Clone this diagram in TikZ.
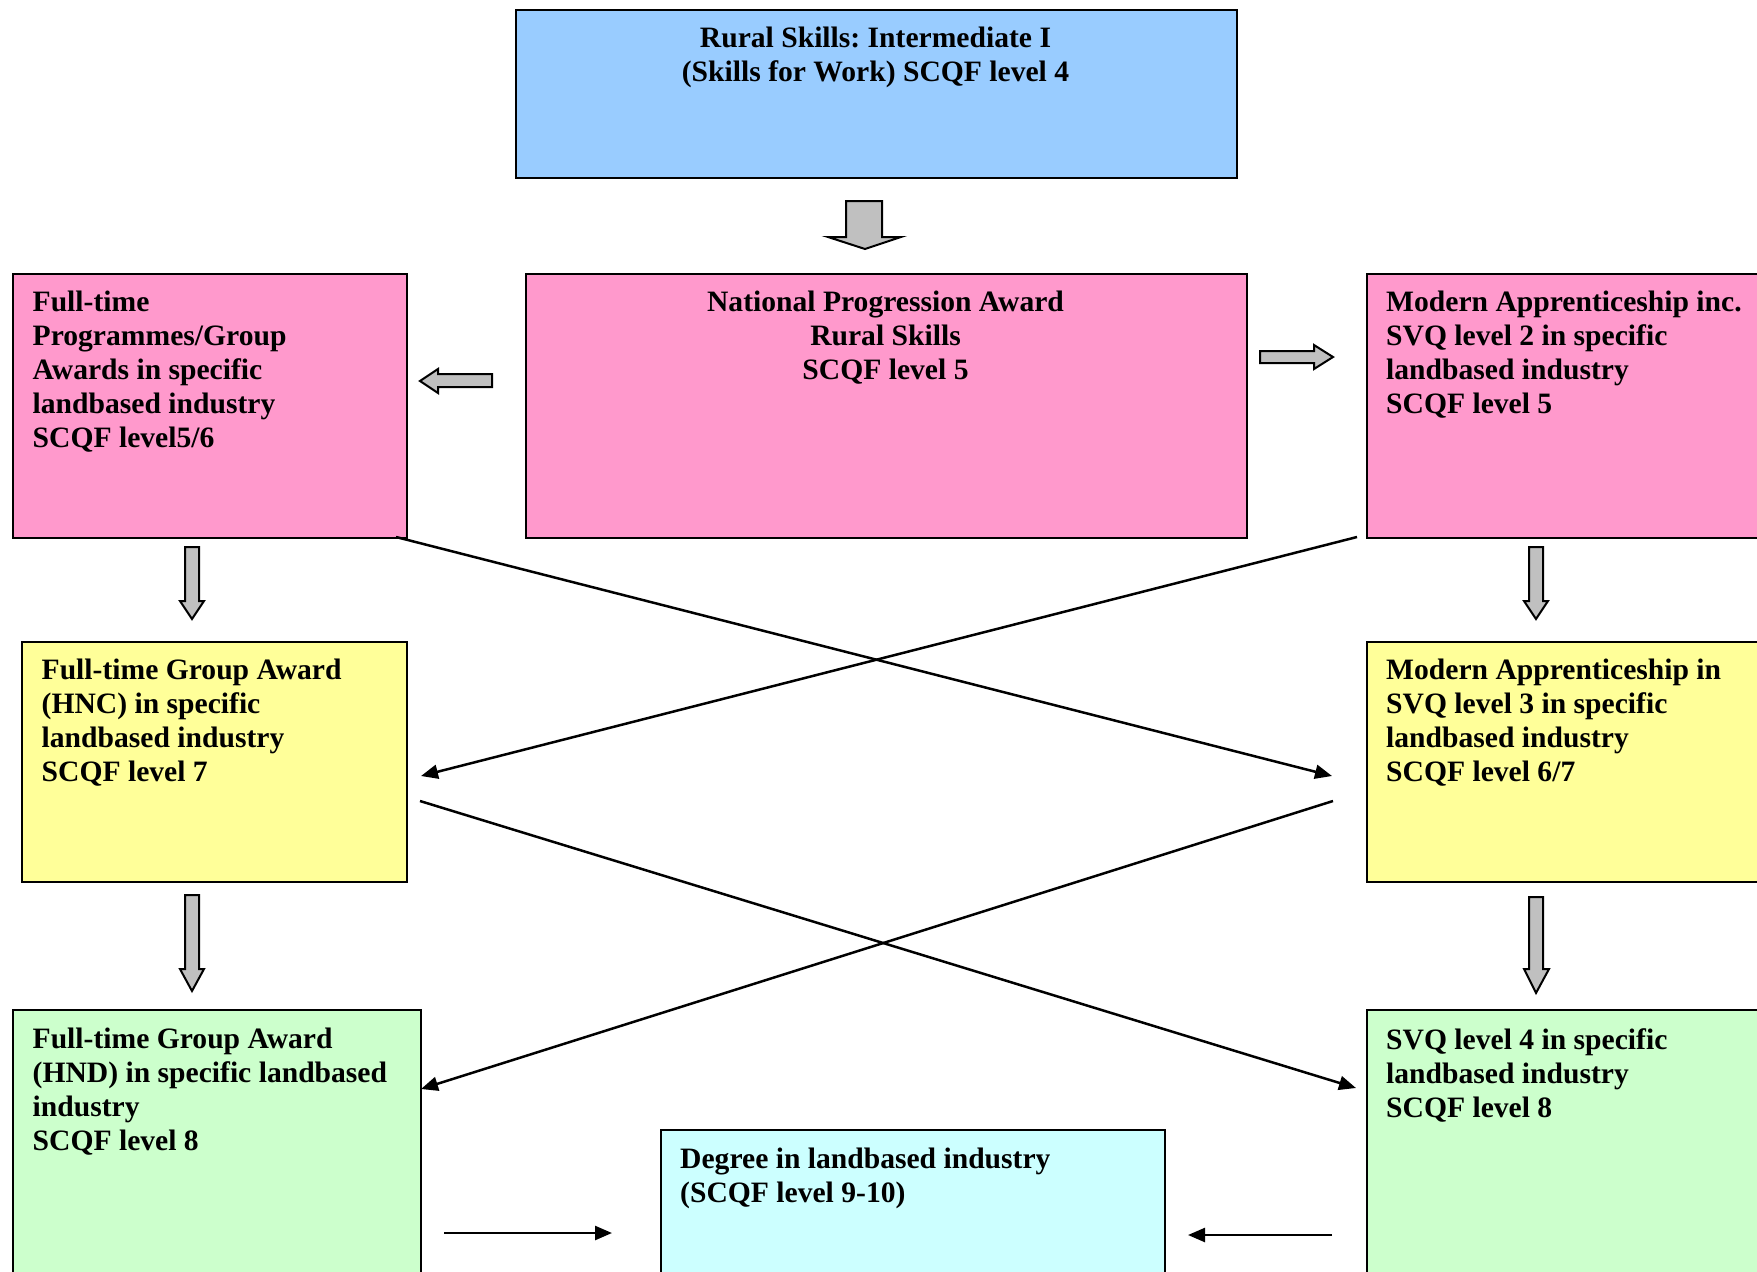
\documentclass[tikz,border=0pt]{standalone}
\usepackage{fontspec}
\setmainfont{Liberation Serif}
\usetikzlibrary{arrows.meta}
\definecolor{cblue}{HTML}{99CCFF}
\definecolor{cpink}{HTML}{FF99CC}
\definecolor{cyell}{HTML}{FFFF99}
\definecolor{cgreen}{HTML}{CCFFCC}
\definecolor{ccyan}{HTML}{CCFFFF}
\definecolor{cgray}{HTML}{C0C0C0}
\frenchspacing
\begin{document}
\begin{tikzpicture}[x=1pt,y=-1pt,
  box/.style={draw=black, line width=2pt, anchor=north west, inner sep=0pt},
  txt/.style={anchor=north west, inner sep=0pt, align=left, font=\fontsize{29.6}{34}\selectfont\bfseries},
  ctxt/.style={anchor=north, inner sep=0pt, align=center, font=\fontsize{29.6}{34}\selectfont\bfseries},
  blockarrow/.style={draw=black, fill=cgray, line width=2pt, line join=miter},
  conn/.style={draw=black, line width=2.5pt, -{Triangle[length=17pt,width=14pt]}},
  plainline/.style={draw=black, line width=2.5pt}]
\useasboundingbox (0,0) rectangle (1757,1272);
\clip (0,0) rectangle (1757,1272);

% boxes
\node[box, fill=cblue, minimum width=721pt, minimum height=168pt] (top) at (515,9) {};
\node[box, fill=cpink, minimum width=394pt, minimum height=264pt] (lp) at (12,273) {};
\node[box, fill=cpink, minimum width=721pt, minimum height=264pt] (cp) at (525,273) {};
\node[box, fill=cpink, minimum width=420pt, minimum height=264pt] (rp) at (1366,273) {};
\node[box, fill=cyell, minimum width=385pt, minimum height=240pt] (ly) at (21,641) {};
\node[box, fill=cyell, minimum width=420pt, minimum height=240pt] (ry) at (1366,641) {};
\node[box, fill=cgreen, minimum width=408pt, minimum height=300pt] (lg) at (12,1009) {};
\node[box, fill=cgreen, minimum width=420pt, minimum height=300pt] (rg) at (1366,1009) {};
\node[box, fill=ccyan, minimum width=504pt, minimum height=200pt] (cy) at (660,1129) {};

% texts
\node[ctxt] (ttop) at (875.5,27) {Rural Skills: Intermediate I\\(Skills for Work) SCQF level 4};
\node[txt] (tlp) at (32.5,291) {Full-time\\Programmes/Group\\Awards in specific\\landbased industry\\SCQF level5/6};
\node[ctxt] (tcp) at (885.5,291) {National Progression Award\\Rural Skills\\SCQF level 5};
\node[txt] (trp) at (1386,291) {Modern Apprenticeship inc.\\SVQ level 2 in specific\\landbased industry\\SCQF level 5};
\node[txt] (tly) at (41.5,659) {Full-time Group Award\\(HNC) in specific\\landbased industry\\SCQF level 7};
\node[txt] (try) at (1386,659) {Modern Apprenticeship in\\SVQ level 3 in specific\\landbased industry\\SCQF level 6/7};
\node[txt] (tlg) at (32.5,1028) {Full-time Group Award\\(HND) in specific landbased\\industry\\SCQF level 8};
\node[txt] (trg) at (1386,1028) {SVQ level 4 in specific\\landbased industry\\SCQF level 8};
\node[txt] (tcy) at (680,1148) {Degree in landbased industry\\(SCQF level 9-10)};

% block arrows
\path[blockarrow] (846,201) -- (882,201) -- (882,237) -- (901,237) -- (865,249) -- (828,237) -- (846,237) -- cycle;
\path[blockarrow] (492,374) -- (438,374) -- (438,369) -- (420,381) -- (438,393) -- (438,387) -- (492,387) -- cycle;
\path[blockarrow] (1260,351) -- (1314,351) -- (1314,345) -- (1333,357) -- (1314,369) -- (1314,363) -- (1260,363) -- cycle;
\path[blockarrow] (185,547) -- (199,547) -- (199,601) -- (204,601) -- (192,619) -- (180,601) -- (185,601) -- cycle;
\path[blockarrow] (1529,547) -- (1543,547) -- (1543,601) -- (1548,601) -- (1536,619) -- (1524,601) -- (1529,601) -- cycle;
\path[blockarrow] (185,895) -- (199,895) -- (199,969) -- (204,969) -- (192,991) -- (180,969) -- (185,969) -- cycle;
\path[blockarrow] (1529,897) -- (1543,897) -- (1543,969) -- (1549,969) -- (1536,993) -- (1524,969) -- (1529,969) -- cycle;

% connector end points
\coordinate (a1) at (396,537);
\coordinate (a2) at (1332,776);
\coordinate (b1) at (1357,537);
\coordinate (b2) at (421,776);
\coordinate (c1) at (420,801);
\coordinate (c2) at (1356,1088);
\coordinate (d1) at (1333,801);
\coordinate (d2) at (421,1089);
\coordinate (e1) at (444,1233);
\coordinate (e2) at (612,1233);
\coordinate (f1) at (1332,1235);
\coordinate (f2) at (1188,1235);

\draw[conn] (a1) -- (a2);
\draw[conn] (b1) -- (b2);
\draw[conn] (c1) -- (c2);
\draw[conn] (d1) -- (d2);
\draw[conn] (e1) -- (e2);
\draw[conn] (f1) -- (f2);
\end{tikzpicture}
\end{document}
